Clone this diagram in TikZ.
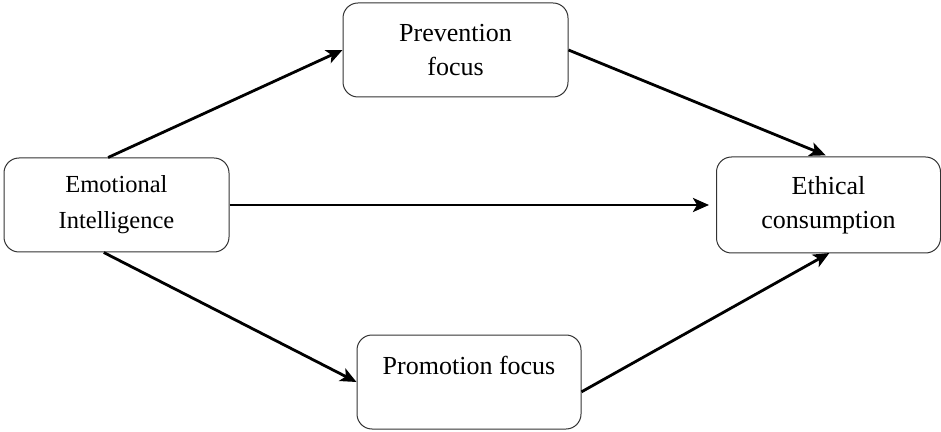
\documentclass[tikz,border=0pt]{standalone}
\usepackage{fontspec}
\setmainfont{Liberation Serif}
\usepackage{tikz}
\usetikzlibrary{positioning, arrows.meta}
\definecolor{boxLine}{RGB}{51, 51, 51}
\tikzset{
    var_box/.style={
        draw=boxLine,
        line width=1pt,
        rounded corners=15pt,
        align=center,
        minimum width=224pt,
        minimum height=94pt,
        inner sep=0pt,
        font=\fontsize{26}{34}\selectfont
    },
    path_edge/.style={
        -{Stealth[length=16pt, width=14pt, inset=4pt]},
        line width=2.8pt,
        draw=black
    }
}

\begin{document}
\begin{tikzpicture}[x=1pt, y=1pt]
        \useasboundingbox (0,0) rectangle (941,431);

        \node[var_box, minimum width=225pt, font=\fontsize{24.5}{36}\selectfont] (ei) at (116.5,226) {Emotional\\Intelligence};
        \node[var_box, minimum width=225pt] (prev) at (455.5,381) {Prevention\\focus};
        \node[var_box] (prom) at (469,49) {Promotion focus\\\mbox{}};
        \node[var_box, minimum height=96pt] (eth) at (828.5,226) {Ethical\\consumption};

        \draw[path_edge] (ei.100) -- (prev.west);
        \draw[path_edge] (ei.-105) -- (prom.west);
        \draw[path_edge, shorten >=7pt] (ei.east) -- (eth.west);
        \draw[path_edge, shorten >=3pt] (prev.east) -- (eth.north);
        \draw[path_edge, shorten >=-1pt] (prom.-5) -- (eth.south);
    \end{tikzpicture}
\end{document}
